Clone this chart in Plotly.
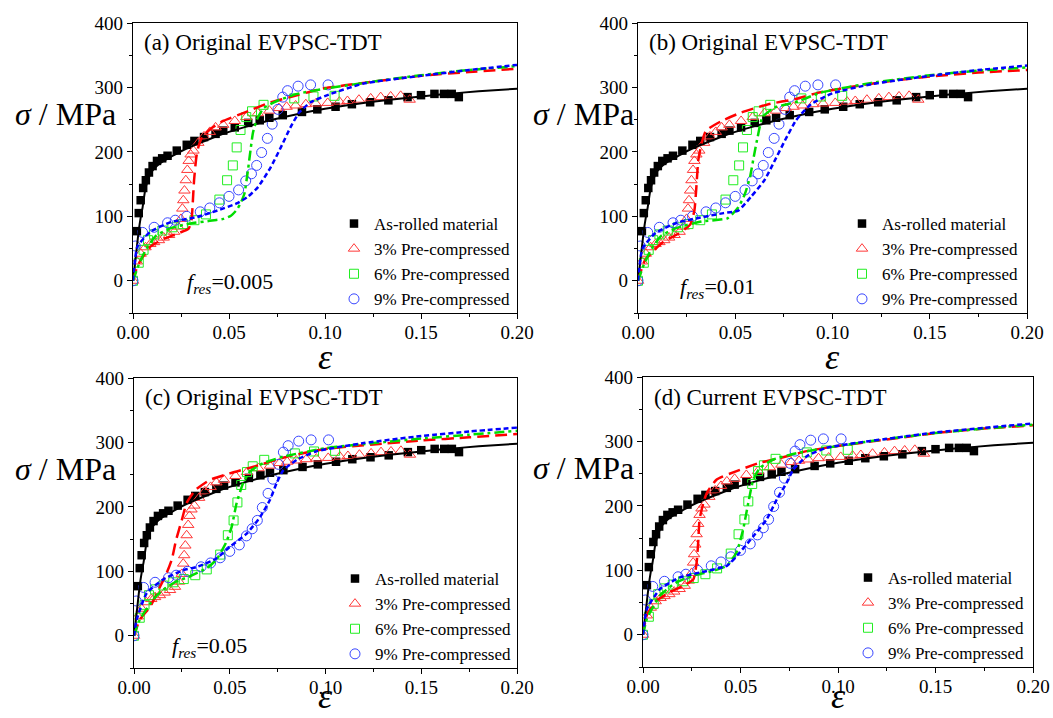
import plotly.graph_objects as go

# ---------------- experimental data (same in all panels) ----------------
AR_EPS = [0.002, 0.003, 0.004, 0.0053, 0.0067, 0.0083, 0.0102, 0.0125, 0.0152, 0.018, 0.0228, 0.028,
          0.032, 0.037, 0.043, 0.047, 0.053, 0.060, 0.066, 0.071, 0.078, 0.088, 0.096, 0.1055, 0.114,
          0.1235, 0.133, 0.143, 0.150, 0.157, 0.162, 0.166, 0.1697]
AR_SIG = [77, 105, 125, 144, 156, 168, 178, 186, 190, 194, 202, 211, 217, 223, 228, 233, 238, 245, 249,
          253, 257, 262, 266, 270, 274, 277, 280, 285, 288, 290, 290, 290, 285]

P3_EPS = [0.0, 0.002, 0.004, 0.0065, 0.009, 0.011, 0.0135, 0.016, 0.0188, 0.0214, 0.0235, 0.025, 0.0257,
          0.0262, 0.0268, 0.0275, 0.0283, 0.029, 0.030, 0.0315, 0.034, 0.037, 0.040, 0.043, 0.047, 0.053,
          0.059, 0.065, 0.071, 0.076, 0.080, 0.0847, 0.090, 0.0952, 0.1014, 0.1075, 0.1117, 0.1177,
          0.1238, 0.129, 0.1342, 0.1394, 0.1441]
P3_SIG = [0, 30, 42, 52, 57, 60, 63, 67, 71, 76, 84, 96, 112, 125, 140, 156, 172, 186, 196, 202, 214, 224,
          231, 238, 242, 248, 254, 260, 264, 268, 270, 272, 274, 275, 276, 278, 279, 281, 283, 285, 286,
          287, 281]

P6_EPS = [0.0, 0.003, 0.0055, 0.0078, 0.011, 0.0153, 0.0205, 0.026, 0.032, 0.038, 0.045, 0.049, 0.052,
          0.054, 0.056, 0.059, 0.062, 0.068, 0.084, 0.094, 0.105]
P6_SIG = [0, 28, 48, 63, 72, 78, 83, 88, 94, 103, 126, 156, 179, 207, 234, 254, 263, 273, 283, 286, 287]

P9_EPS = [0.0, 0.0012, 0.005, 0.011, 0.018, 0.022, 0.028, 0.035, 0.040, 0.045, 0.050, 0.055, 0.0587,
          0.0617, 0.0644, 0.067, 0.070, 0.0725, 0.0755, 0.078, 0.0805, 0.086, 0.0925, 0.1016]
P9_SIG = [0, 54, 75, 83, 90, 94, 100, 107, 113, 121, 131, 141, 155, 166, 179, 199, 221, 243, 266, 285,
          295, 302, 304, 304]

# ---------------- simulated curves ----------------
BL_EPS = [0, 0.001, 0.002, 0.003, 0.004, 0.005, 0.0066, 0.008, 0.009, 0.011, 0.0127, 0.016, 0.0196,
          0.025, 0.03, 0.04, 0.05, 0.06, 0.07, 0.08, 0.1, 0.12, 0.14, 0.16, 0.18, 0.2]
BL_SIG = [0, 25, 52, 78, 98, 114, 145, 158, 166, 174, 179, 186, 192, 201, 208, 220, 231, 240, 248, 255,
          267, 276, 283, 289, 294, 298]

A_RED_EPS = [0, 0.002, 0.004, 0.009, 0.016, 0.023, 0.029, 0.0305, 0.031, 0.0318, 0.033, 0.034, 0.036,
             0.0405, 0.047, 0.058, 0.0717, 0.082, 0.094, 0.1, 0.12, 0.15, 0.175, 0.2]
A_RED_SIG = [0, 20, 32, 53, 65, 73, 81, 95, 114, 156, 192, 207, 223, 236, 248, 261, 277, 285, 295, 299,
             307, 318, 324, 329]
A_GRN_EPS = [0, 0.003, 0.007, 0.012, 0.02, 0.03, 0.04, 0.047, 0.051, 0.054, 0.056, 0.058, 0.0598, 0.0613,
             0.0625, 0.0645, 0.068, 0.075, 0.0856, 0.1, 0.12, 0.15, 0.175, 0.2]
A_GRN_SIG = [0, 25, 50, 70, 82, 89, 93, 96, 101, 110, 120, 135, 170, 205, 230, 250, 268, 279, 290, 298,
             307, 319, 327, 333]
A_BLU_EPS = [0, 0.0023, 0.009, 0.0196, 0.0335, 0.044, 0.054, 0.0596, 0.065, 0.0717, 0.077, 0.082, 0.0865,
             0.0925, 0.103, 0.12, 0.15, 0.175, 0.2]
A_BLU_SIG = [0, 53, 76, 91, 99, 109, 120, 130, 145, 176, 207, 238, 261, 277, 290, 306, 318, 327, 335]

B_RED_EPS = [0, 0.0036, 0.012, 0.0207, 0.024, 0.027, 0.029, 0.030, 0.031, 0.0327, 0.035, 0.043, 0.053,
             0.067, 0.081, 0.093, 0.11, 0.13, 0.15, 0.175, 0.2]
B_RED_SIG = [0, 32, 58, 73, 80, 88, 109, 145, 187, 213, 233, 248, 261, 274, 282, 292, 301, 310, 317, 323, 327]
B_GRN_EPS = [0, 0.003, 0.007, 0.012, 0.02, 0.0327, 0.046, 0.0516, 0.055, 0.0576, 0.0595, 0.0615, 0.064,
             0.0704, 0.081, 0.094, 0.12, 0.15, 0.175, 0.2]
B_GRN_SIG = [0, 25, 50, 70, 82, 92, 97, 114, 135, 161, 192, 223, 254, 269, 277, 292, 307, 319, 326, 331]
B_BLU_EPS = [0, 0.0023, 0.009, 0.02, 0.0335, 0.044, 0.0516, 0.058, 0.065, 0.0704, 0.0756, 0.081, 0.084,
             0.089, 0.1, 0.12, 0.15, 0.175, 0.2]
B_BLU_SIG = [0, 50, 74, 90, 99, 105, 109, 130, 156, 187, 218, 248, 259, 274, 291, 305, 318, 327, 334]

C_RED_EPS = [0, 0.003, 0.0084, 0.0136, 0.017, 0.0197, 0.022, 0.025, 0.0275, 0.032, 0.0397, 0.05, 0.062,
             0.08, 0.1, 0.125, 0.15, 0.175, 0.2]
C_RED_SIG = [0, 25, 45, 76, 97, 118, 149, 180, 206, 226, 242, 252, 262, 278, 290, 297, 303, 308, 313]
C_GRN_EPS = [0, 0.003, 0.01, 0.015, 0.022, 0.029, 0.038, 0.043, 0.048, 0.051, 0.0536, 0.057, 0.0606,
             0.0675, 0.078, 0.1, 0.125, 0.15, 0.175, 0.2]
C_GRN_SIG = [0, 25, 56, 71, 84, 92, 105, 118, 144, 169, 206, 237, 255, 268, 278, 291, 299, 306, 312, 318]
C_BLU_EPS = [0, 0.0014, 0.0066, 0.015, 0.026, 0.033, 0.043, 0.05, 0.059, 0.066, 0.071, 0.0745, 0.078,
             0.085, 0.095, 0.12, 0.15, 0.175, 0.2]
C_BLU_SIG = [0, 25, 66, 87, 102, 107, 120, 138, 159, 185, 211, 237, 257, 273, 286, 299, 310, 317, 323]

D_RED_EPS = [0, 0.0019, 0.007, 0.0138, 0.0207, 0.0258, 0.0275, 0.0284, 0.029, 0.031, 0.0327, 0.0378,
             0.048, 0.06, 0.07, 0.084, 0.1, 0.125, 0.15, 0.175, 0.2]
D_RED_SIG = [0, 30, 53, 66, 76, 86, 112, 148, 179, 205, 220, 241, 254, 267, 274, 285, 293, 303, 313, 320, 325]
D_GRN_EPS = [0, 0.002, 0.0087, 0.017, 0.026, 0.036, 0.043, 0.048, 0.0514, 0.054, 0.0566, 0.06, 0.0668,
             0.079, 0.1, 0.125, 0.15, 0.175, 0.2]
D_GRN_SIG = [0, 25, 61, 81, 92, 99, 107, 128, 164, 205, 241, 259, 272, 282, 293, 304, 313, 320, 326]
D_BLU_EPS = [0, 0.002, 0.0087, 0.019, 0.0327, 0.043, 0.0497, 0.0566, 0.0634, 0.0686, 0.0737, 0.077,
             0.084, 0.094, 0.11, 0.13, 0.15, 0.175, 0.2]
D_BLU_SIG = [0, 40, 71, 89, 99, 107, 128, 153, 179, 210, 236, 256, 277, 290, 298, 306, 314, 321, 328]

SERIES_NAMES = ["As-rolled material", "3% Pre-compressed", "6% Pre-compressed", "9% Pre-compressed"]
PANEL_TITLES = ["(a) Original EVPSC-TDT", "(b) Original EVPSC-TDT",
                "(c) Original EVPSC-TDT", "(d) Current EVPSC-TDT"]
FRES_LABELS = ["0.005", "0.01", "0.05", None]
X_TICKS = [0.0, 0.05, 0.10, 0.15, 0.20]
Y_TICKS = [0, 100, 200, 300, 400]

SIM = [
    (A_RED_EPS, A_RED_SIG, A_GRN_EPS, A_GRN_SIG, A_BLU_EPS, A_BLU_SIG),
    (B_RED_EPS, B_RED_SIG, B_GRN_EPS, B_GRN_SIG, B_BLU_EPS, B_BLU_SIG),
    (C_RED_EPS, C_RED_SIG, C_GRN_EPS, C_GRN_SIG, C_BLU_EPS, C_BLU_SIG),
    (D_RED_EPS, D_RED_SIG, D_GRN_EPS, D_GRN_SIG, D_BLU_EPS, D_BLU_SIG),
]

W, H = 1053, 718
FONT = "Liberation Serif"

# pixel geometry of the four plot areas: (left, right, top, bottom)
BOXES = [(133, 517, 23, 313), (638, 1027, 23, 313), (134, 517, 378, 668), (643, 1033, 377, 667)]
LEGEND_TEXT_X = [372, 880, 373, 886]
FRES_POS = [(185, 283), (678, 288), (170, 647)]
YTITLE_X = [65, 583, 65, 583]


def px(x):
    return x / W


def py(y):
    return 1 - y / H


fig = go.Figure()

for i in range(4):
    xa = "x" if i == 0 else f"x{i + 1}"
    ya = "y" if i == 0 else f"y{i + 1}"
    lg = "legend" if i == 0 else f"legend{i + 1}"
    re, rs, ge, gs, be, bs = SIM[i]
    # experimental markers
    fig.add_trace(go.Scatter(x=AR_EPS, y=AR_SIG, mode="markers", name=SERIES_NAMES[0], xaxis=xa, yaxis=ya,
                             legend=lg, marker=dict(symbol="square", size=8.5, color="black")))
    fig.add_trace(go.Scatter(x=P3_EPS, y=P3_SIG, mode="markers", name=SERIES_NAMES[1], xaxis=xa, yaxis=ya,
                             legend=lg, marker=dict(symbol="triangle-up-open", size=10, color="#FF3838",
                                                    line=dict(width=1))))
    fig.add_trace(go.Scatter(x=P6_EPS, y=P6_SIG, mode="markers", name=SERIES_NAMES[2], xaxis=xa, yaxis=ya,
                             legend=lg, marker=dict(symbol="square-open", size=9, color="#22EE22",
                                                    line=dict(width=1))))
    fig.add_trace(go.Scatter(x=P9_EPS, y=P9_SIG, mode="markers", name=SERIES_NAMES[3], xaxis=xa, yaxis=ya,
                             legend=lg, marker=dict(symbol="circle-open", size=10, color="#3846FF",
                                                    line=dict(width=1))))
    # simulated lines
    fig.add_trace(go.Scatter(x=BL_EPS, y=BL_SIG, mode="lines", xaxis=xa, yaxis=ya, showlegend=False,
                             line=dict(color="black", width=2, shape="spline", smoothing=0.6)))
    fig.add_trace(go.Scatter(x=re, y=rs, mode="lines", xaxis=xa, yaxis=ya, showlegend=False,
                             line=dict(color="#FF0000", width=2.5, dash="12px,6px", shape="spline",
                                       smoothing=0.5)))
    fig.add_trace(go.Scatter(x=ge, y=gs, mode="lines", xaxis=xa, yaxis=ya, showlegend=False,
                             line=dict(color="#00DD00", width=2.5, dash="10px,4px,3px,4px", shape="spline",
                                       smoothing=0.5)))
    fig.add_trace(go.Scatter(x=be, y=bs, mode="lines", xaxis=xa, yaxis=ya, showlegend=False,
                             line=dict(color="#0000FF", width=2.5, dash="5px,3px", shape="spline",
                                       smoothing=0.5)))

layout = dict(width=W, height=H, margin=dict(l=0, r=0, t=0, b=0, autoexpand=False), paper_bgcolor="white",
              plot_bgcolor="white", showlegend=True, font=dict(family=FONT, color="black"))

annotations = []
for i, (l, r, t, b) in enumerate(BOXES):
    sx = "" if i == 0 else str(i + 1)
    axis_common = dict(showline=True, linecolor="black", linewidth=1.3, mirror=True, showgrid=False,
                       zeroline=False, ticks="outside", ticklen=5, tickwidth=1.2, tickcolor="black",
                       automargin=False,
                       tickfont=dict(family=FONT, size=19, color="black"))
    layout["xaxis" + sx] = dict(domain=[px(l), px(r)], anchor="y" + sx, range=[0, 0.2],
                                tickvals=X_TICKS, tickformat=".2f", ticklabelstandoff=-3,
                                minor=dict(ticks="outside", ticklen=3, dtick=0.025, tick0=0,
                                           tickcolor="black", tickwidth=1),
                                **axis_common)
    layout["yaxis" + sx] = dict(domain=[py(b), py(t)], anchor="x" + sx, range=[-50, 400],
                                tickvals=Y_TICKS,
                                minor=dict(ticks="outside", ticklen=3, dtick=50, tick0=0,
                                           tickcolor="black", tickwidth=1),
                                **axis_common)
    # legend inside lower right
    lx = LEGEND_TEXT_X[i] - 38
    legend_top = b - 107
    layout["legend" if i == 0 else f"legend{i + 1}"] = dict(
        x=px(lx), y=py(legend_top), xanchor="left", yanchor="top", bgcolor="rgba(0,0,0,0)",
        font=dict(family=FONT, size=17, color="black"), tracegroupgap=0, itemwidth=30)
    # panel title
    annotations.append(dict(text=PANEL_TITLES[i], x=px(l + 9), y=py(t + 20), xref="paper", yref="paper",
                            xanchor="left", yanchor="middle", showarrow=False,
                            font=dict(family=FONT, size=23, color="black")))
    # f_res label
    if FRES_LABELS[i] is not None:
        fx, fy = FRES_POS[i]
        annotations.append(dict(text="<i>f</i><sub><i>res</i></sub>=" + FRES_LABELS[i], x=px(fx), y=py(fy),
                                xref="paper", yref="paper", xanchor="left", yanchor="middle",
                                showarrow=False, font=dict(family=FONT, size=22, color="black")))
    # y title (horizontal)
    annotations.append(dict(text="<i>σ</i> / MPa", x=px(YTITLE_X[i]), y=py(t + 91), xref="paper",
                            yref="paper", xanchor="center", yanchor="middle", showarrow=False,
                            font=dict(family=FONT, size=32, color="black")))
    # x title
    annotations.append(dict(text="<i>ε</i>", x=px((l + r) / 2), y=py(min(b + 66, H)), xref="paper",
                            yref="paper", xanchor="center", yanchor="bottom", showarrow=False,
                            font=dict(family=FONT, size=36, color="black")))

layout["annotations"] = annotations
fig.update_layout(**layout)
fig.write_html("out.html", config={"displayModeBar": False},
               post_script="document.body.style.margin='0';document.body.style.padding='0';"
                           "document.body.style.overflow='hidden';")
